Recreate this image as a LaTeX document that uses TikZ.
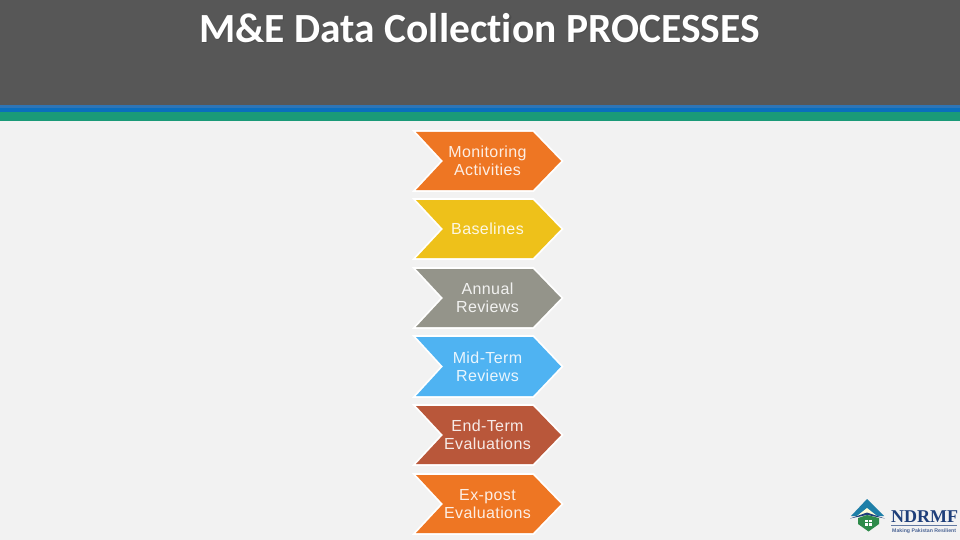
\documentclass[tikz,border=0pt]{standalone}
\usepackage{fontspec}
\setmainfont[LetterSpace=2.5]{Liberation Sans}
\newfontfamily\titlefont[Ligatures=NoCommon]{Carlito}
\newfontfamily\logofont{Liberation Serif}
\newfontfamily\tagfont{Liberation Sans}
\definecolor{bgc}{HTML}{F2F2F2}
\definecolor{headc}{HTML}{575757}
\definecolor{band1}{HTML}{2E75B6}
\definecolor{band2}{HTML}{0A6EBD}
\definecolor{band3}{HTML}{1A9A78}
\definecolor{orangec}{HTML}{EE7623}
\definecolor{yellowc}{HTML}{EEC11A}
\definecolor{greyc}{HTML}{94948A}
\definecolor{bluec}{HTML}{4FB3F2}
\definecolor{rustc}{HTML}{B9573A}
\definecolor{navyc}{HTML}{1F3F7A}
\definecolor{tealc}{HTML}{1E7FA8}
\definecolor{greenc}{HTML}{2E8B4A}
\tikzset{
  x=1pt,y=-1pt,
  chev/.style={fill=#1,preaction={draw=white,line width=3.6pt,line join=miter}},
  chevtext/.style={text=white,text opacity=0.88,font=\fontsize{16}{18.4}\selectfont,align=center,inner sep=0pt},
  titletext/.style={font=\titlefont\bfseries\fontsize{41.5}{44}\selectfont,inner sep=0pt,anchor=center},
}
\newcommand{\chevron}[5]{% name, top, bottom, colour, text
  \path[chev=#4] (416,#2) -- (533,#2) -- (561,{(#2+#3)/2}) -- (533,#3) -- (416,#3) -- (443,{(#2+#3)/2}) -- cycle;
  \node[chevtext] (#1) at (487.5,{(#2+#3)/2}) {#5};
}
\begin{document}
\begin{tikzpicture}
\useasboundingbox (0,0) rectangle (960,540);
\fill[bgc] (0,0) rectangle (960,540);
\fill[headc] (0,0) rectangle (960,105);
\fill[band1] (0,105) rectangle (960,108);
\fill[band2] (0,108) rectangle (960,112);
\fill[band3] (0,112) rectangle (960,121);
\node[titletext,text=black!70] (titleshadow) at (480.6,29.1) {M\&E Data Collection PROCESSES};
\node[titletext,text=white] (title) at (479.5,28) {M\&E Data Collection PROCESSES};
\chevron{a}{132}{190}{orangec}{Monitoring\\Activities}
\chevron{b}{200}{258}{yellowc}{Baselines}
\chevron{c}{269}{327}{greyc}{Annual\\Reviews}
\chevron{d}{337}{396}{bluec}{Mid-Term\\Reviews}
\chevron{e}{406}{464}{rustc}{End-Term\\Evaluations}
\chevron{f}{475}{533}{orangec}{Ex-post\\Evaluations}
% logo
\fill[tealc] (867,499) -- (884,516) -- (851,516) -- cycle;
\fill[white!85!yellow] (867,508) -- (877,516) -- (857,516) -- cycle;
\fill[navyc] (850,518.5) -- (867,512.5) -- (885,518.5) -- (867,515) -- cycle;
\fill[greenc] (858,518) -- (867,515) -- (879,518) -- (879,524) -- (868.5,531.5) -- (858,524) -- cycle;
\fill[white] (865,519.5) rectangle (872,526);
\draw[greenc,line width=.7pt] (868.5,519.5) -- (868.5,526) (865,522.8) -- (872,522.8);
\node[font=\logofont\bfseries\fontsize{18}{18}\selectfont,text=navyc,inner sep=0pt,anchor=west] (logoname) at (891,517) {NDRMF};
\draw[navyc!70,line width=.5pt] (891,525.5) -- (957,525.5);
\node[font=\tagfont\bfseries\fontsize{5.2}{6}\selectfont,text=navyc!80,inner sep=0pt,anchor=west] (logotag) at (892,531) {Making Pakistan Resilient};
\end{tikzpicture}
\end{document}
